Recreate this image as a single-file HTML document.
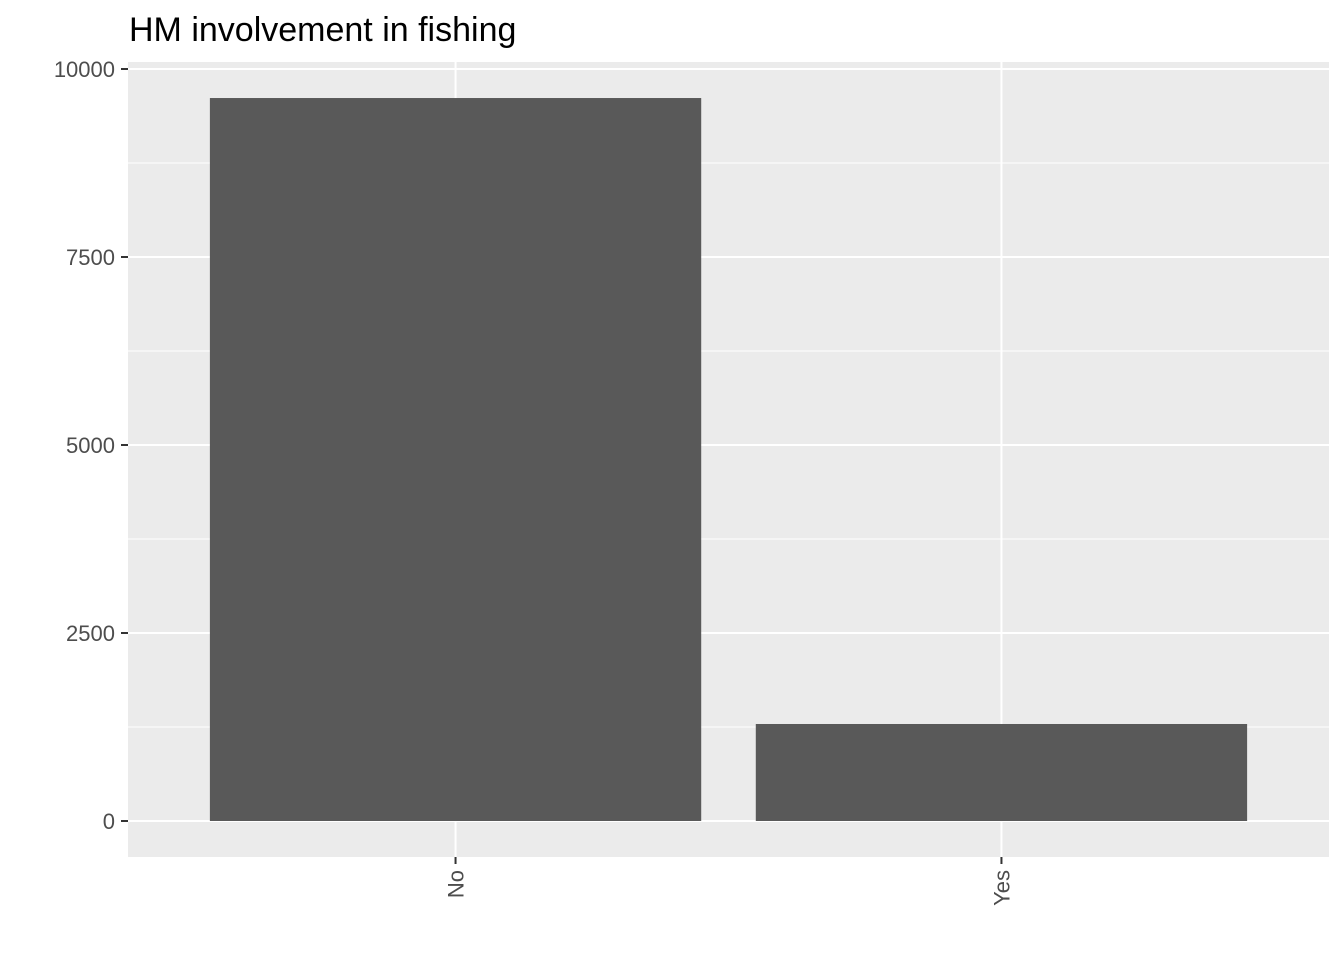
<!DOCTYPE html>
<html><head><meta charset="utf-8"><style>
body{margin:0;background:#fff;font-family:"Liberation Sans",Arial,sans-serif}
</style></head><body>
<svg id="chart" width="1344" height="960" xmlns="http://www.w3.org/2000/svg">
<text x="129" y="41" font-size="34" fill="#000">HM involvement in fishing</text>
<rect x="128" y="62" width="1201" height="795" fill="#ebebeb"/>
<g id="grid"></g><g id="bars"></g><g id="axes"></g>
</svg>
<script>
const categories = ["No", "Yes"];
const counts = [9614, 1290];
const yTicks = [0, 2500, 5000, 7500, 10000];
const px0 = 128, px1 = 1329, y0px = 821, y10k = 69;
const y = v => y0px - (v / 10000) * (y0px - y10k);
const band = (px1 - px0) / (categories.length + 0.2);
const xc = i => px0 + band * 0.6 + band * i;
const ns = "http://www.w3.org/2000/svg";
function mk(parent, tag, attrs){const e=document.createElementNS(ns,tag);for(const k in attrs)e.setAttribute(k,attrs[k]);document.getElementById(parent).appendChild(e);return e;}
for (let i=0;i<yTicks.length-1;i++){
  const l=mk("grid","line",{x1:px0,x2:px1,y1:y((yTicks[i]+yTicks[i+1])/2),y2:y((yTicks[i]+yTicks[i+1])/2),stroke:"#fff","stroke-width":1});
  
  
}
yTicks.forEach(t=>{
  const l=mk("grid","line",{x1:px0,x2:px1,y1:y(t),y2:y(t),stroke:"#fff","stroke-width":2});
  
  
  const tk=mk("axes","line",{x1:121,x2:128,y1:y(t),y2:y(t),stroke:"#333","stroke-width":2});
  
  
  const tx=mk("axes","text",{x:115,y:y(t)+8,"text-anchor":"end","font-size":22,fill:"#4d4d4d"});
  tx.textContent=t;
  
  
});
categories.forEach((c,i)=>{
  const cx=xc(i);
  const g=mk("grid","line",{x1:cx,x2:cx,y1:62,y2:857,stroke:"#fff","stroke-width":2});
  
  
  const w=band*0.9;
  const r=mk("bars","rect",{x:cx-w/2,y:y(counts[i]),width:w,height:y(0)-y(counts[i]),fill:"#595959"});
  
  
  const tk=mk("axes","line",{x1:cx,x2:cx,y1:857,y2:864,stroke:"#333","stroke-width":2});
  
  
  const tx=mk("axes","text",{x:0,y:0,"text-anchor":"end","font-size":22,fill:"#4d4d4d",transform:`translate(${cx+8},870) rotate(-90)`});
  tx.textContent=c;
  
  
});
</script>
</body></html>
